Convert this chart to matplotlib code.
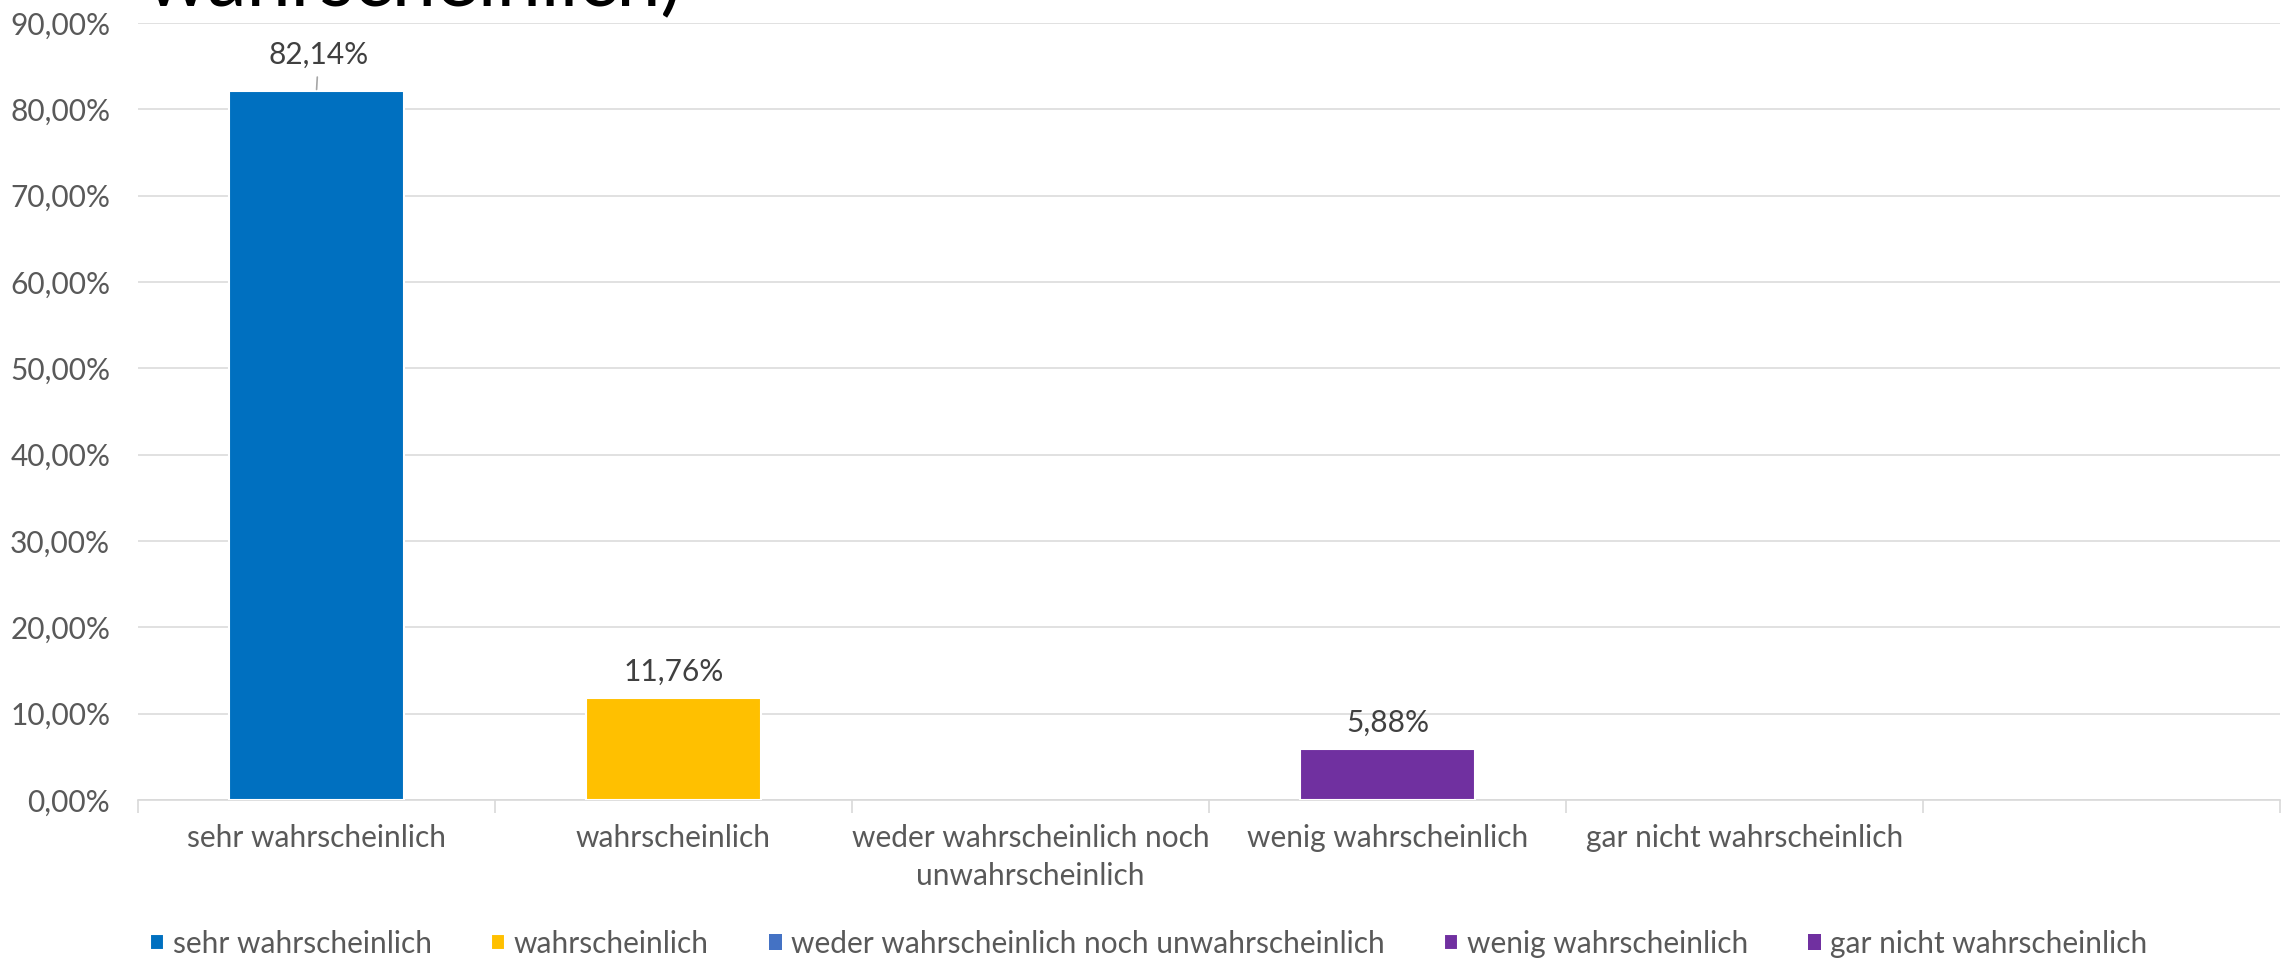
import numpy as np
import matplotlib.pyplot as plt
from matplotlib.ticker import FuncFormatter, FixedLocator

plt.rcParams['font.family'] = ['Lato', 'DejaVu Sans']

# Daten
categories = ['sehr wahrscheinlich', 'wahrscheinlich',
              'weder wahrscheinlich noch\nunwahrscheinlich',
              'wenig wahrscheinlich', 'gar nicht wahrscheinlich', '']
series_names = ['sehr wahrscheinlich', 'wahrscheinlich',
                'weder wahrscheinlich noch unwahrscheinlich',
                'wenig wahrscheinlich', 'gar nicht wahrscheinlich']
values = [82.14, 11.76, None, 5.88, None]
colors = ['#0070C0', '#FFC000', '#4472C4', '#7030A0', '#7030A0']
y_ticks = np.arange(0, 91, 10)

fs = 21.5
grey_txt = '#595959'
grid_col = '#D9D9D9'


def pct(v):
    return f'{v:.2f}%'.replace('.', ',')


fig = plt.figure(figsize=(22.84, 9.6), dpi=100)
ax = fig.add_axes([138 / 2284, 1 - 800 / 960, (2280 - 138) / 2284, (800 - 23) / 960])

for i, (name, v, c) in enumerate(zip(series_names, values, colors)):
    if v is None:
        # leere Serie, nur für die Legende
        ax.bar(i, 0, width=0.49, color=c, linewidth=0, label=name, zorder=3)
        continue
    ax.bar(i, v, width=0.49, color=c, edgecolor='white', linewidth=1.5,
           label=name, zorder=3)
    if i == 0:
        # verschobenes Label mit Führungslinie
        ax.annotate(pct(v), xy=(i, v), xytext=(1.5, 26), textcoords='offset points',
                    ha='center', va='center', fontsize=fs, color='#404040',
                    arrowprops=dict(arrowstyle='-', color='#A6A6A6', lw=1.2,
                                    shrinkA=4, shrinkB=1))
    else:
        ax.annotate(pct(v), xy=(i, v), xytext=(0, 19), textcoords='offset points',
                    ha='center', va='center', fontsize=fs, color='#404040')

ax.set_xlim(-0.5, len(categories) - 0.5)
ax.set_ylim(0, 90)
ax.set_yticks(y_ticks)
ax.yaxis.set_major_formatter(FuncFormatter(lambda v, p: pct(v)))
ax.set_xticks(range(len(categories)))
ax.set_xticklabels(categories, linespacing=1.45)
ax.xaxis.set_minor_locator(FixedLocator(np.arange(-0.5, len(categories), 1.0)))

ax.tick_params(axis='y', length=0, pad=20, labelsize=fs, labelcolor=grey_txt)
ax.tick_params(axis='x', which='major', length=0, pad=17, labelsize=fs, labelcolor=grey_txt)
ax.tick_params(axis='x', which='minor', length=9, width=1.2, color=grid_col, direction='out')

ax.grid(axis='y', color=grid_col, linewidth=1.1, zorder=0)
ax.set_axisbelow(True)
for s in ['top', 'right', 'left']:
    ax.spines[s].set_visible(False)
ax.spines['bottom'].set_color(grid_col)
ax.spines['bottom'].set_linewidth(1.2)

# Titel (nur letzte Zeile sichtbar, oben abgeschnitten)
fig.text(146 / 2284, 1 - 6 / 960, 'wahrscheinlich)', fontsize=57,
         color='black', ha='left', va='baseline')

fig.legend(loc='center', bbox_to_anchor=(0.503, 1 - 944 / 960), ncol=5,
           frameon=False, fontsize=fs, labelcolor=grey_txt,
           handlelength=0.45, handleheight=0.45, handletextpad=0.3,
           columnspacing=2.0)

fig.savefig('out.png', dpi=100)
